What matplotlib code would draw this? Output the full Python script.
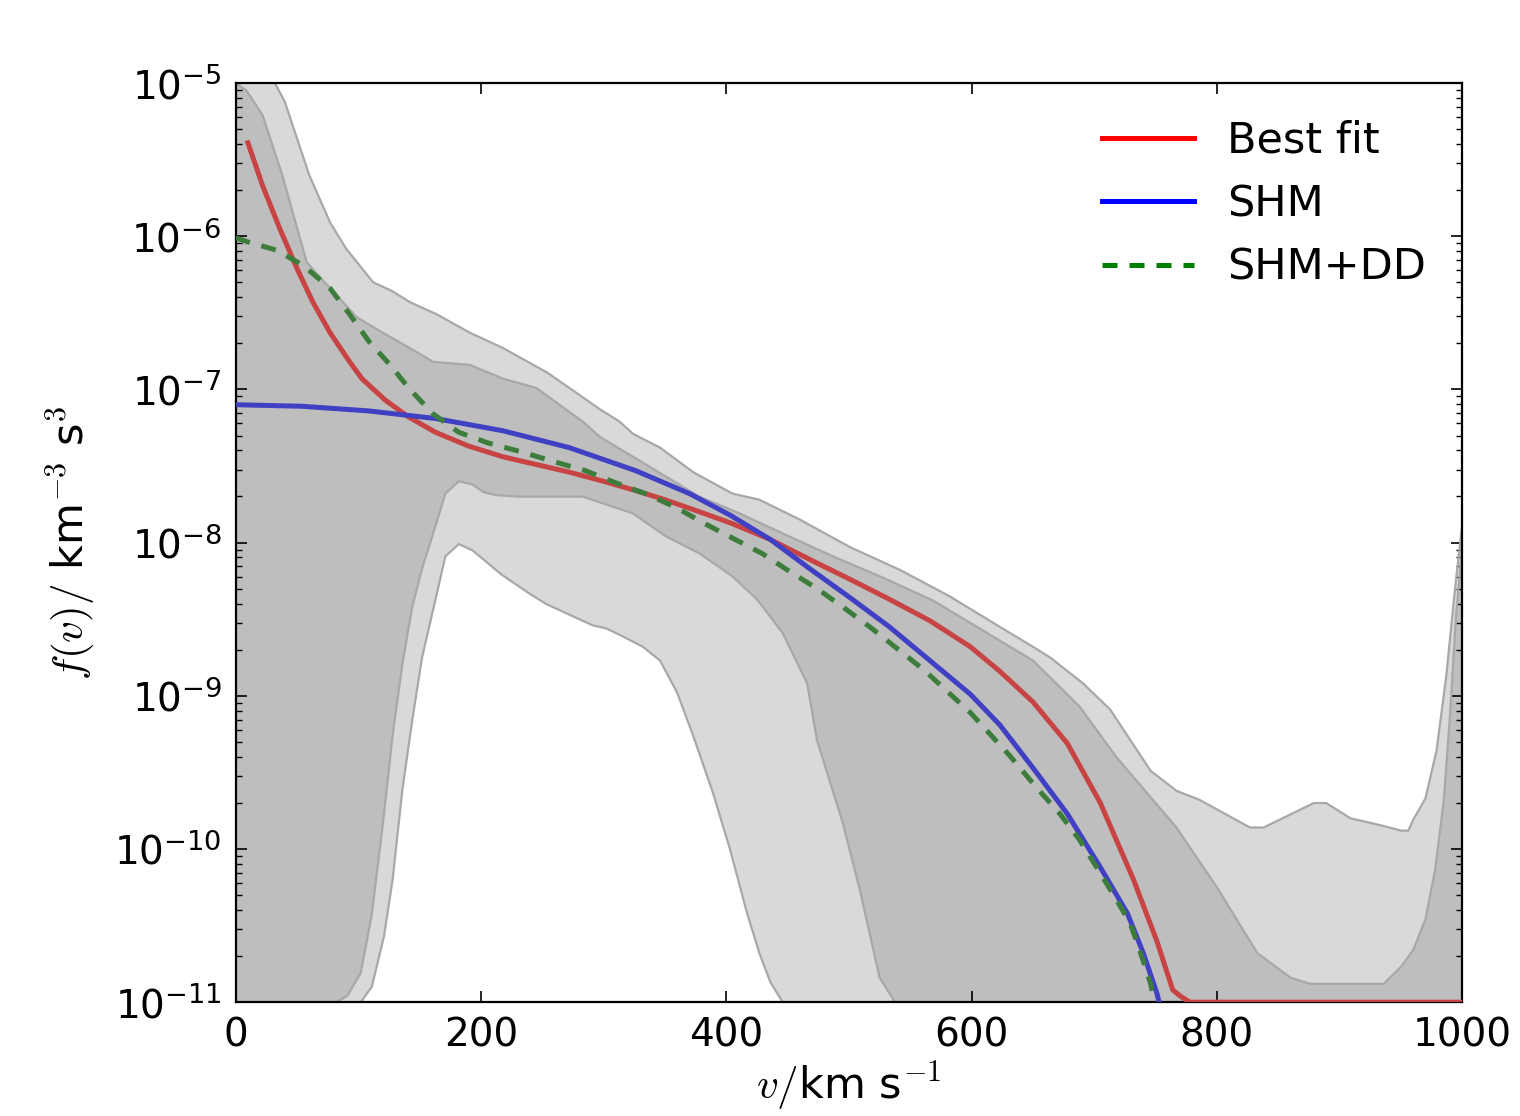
import numpy as np
import matplotlib
matplotlib.use('Agg')
import matplotlib.pyplot as plt
from matplotlib.lines import Line2D

plt.rcParams['mathtext.fontset'] = 'cm'
plt.rcParams['font.family'] = ['DejaVu Sans']

# all band/curve values stored as log10 f(v) [km^-3 s^3]
FLOOR = -12.0

# outer (light grey) band
v_out_up = [0, 30, 40, 60, 77, 90, 112, 128, 142, 164, 191, 218, 254, 281, 297, 313, 324, 346,
            373, 405, 427, 460, 501, 542, 582, 623, 650, 664, 691, 713, 746, 767, 786, 827,
            838, 879, 889, 909, 936, 950, 956, 960, 970, 979, 987, 994, 1000]
f_out_up = [-4.8, -4.97, -5.12, -5.6, -5.91, -6.08, -6.30, -6.36, -6.43, -6.51, -6.63, -6.73,
            -6.89, -7.04, -7.13, -7.21, -7.29, -7.38, -7.54, -7.68, -7.72, -7.85, -8.03, -8.18,
            -8.35, -8.55, -8.68, -8.75, -8.92, -9.09, -9.49, -9.62, -9.68, -9.86, -9.86, -9.70,
            -9.70, -9.80, -9.85, -9.88, -9.88, -9.81, -9.67, -9.36, -8.87, -8.31, -7.88]
v_out_lo = [0, 100, 102, 111, 121, 128, 136, 144, 152, 163, 171, 182, 193, 217, 239, 253, 272,
            291, 302, 315, 332, 346, 360, 373, 389, 403, 417, 427, 436, 446, 450, 1000]
f_out_lo = [FLOOR, FLOOR, -11.0, -10.9, -10.57, -10.2, -9.61, -9.16, -8.75, -8.37, -8.09, -8.01,
            -8.05, -8.21, -8.33, -8.40, -8.47, -8.54, -8.56, -8.61, -8.68, -8.77, -8.98, -9.26,
            -9.63, -10.0, -10.42, -10.68, -10.87, -11.0, FLOOR, FLOOR]

# inner (dark grey) band
v_in_up = [0, 9, 22, 38, 58, 77, 99, 120, 142, 161, 191, 218, 245, 283, 297, 324, 351, 378,
           411, 446, 487, 528, 569, 596, 623, 650, 664, 688, 718, 767, 800, 833, 860, 876,
           936, 950, 960, 970, 978, 985, 990, 995, 1000]
f_in_up = [-5.0, -5.05, -5.21, -5.6, -6.17, -6.34, -6.53, -6.63, -6.73, -6.82, -6.84, -6.93,
           -6.99, -7.21, -7.31, -7.44, -7.57, -7.70, -7.81, -7.94, -8.09, -8.23, -8.38, -8.51,
           -8.64, -8.77, -8.88, -9.07, -9.40, -9.86, -10.25, -10.68, -10.84, -10.88, -10.88,
           -10.77, -10.66, -10.46, -10.13, -9.68, -9.13, -8.47, -8.03]
v_in_lo = [0, 80, 82, 91, 102, 111, 120, 128, 136, 144, 152, 163, 171, 182, 193, 202, 212, 231,
           283, 294, 324, 351, 378, 405, 425, 446, 466, 474, 495, 509, 525, 536, 540, 1000]
f_in_lo = [FLOOR, FLOOR, -11.0, -10.96, -10.81, -10.43, -9.84, -9.26, -8.79, -8.42, -8.17, -7.89,
           -7.68, -7.60, -7.62, -7.67, -7.69, -7.70, -7.70, -7.73, -7.81, -7.96, -8.07, -8.22,
           -8.37, -8.59, -8.92, -9.29, -9.83, -10.27, -10.84, -10.98, FLOOR, FLOOR]

# best fit
v_best = [10, 22, 36, 50, 63, 77, 93, 103, 122, 141, 163, 190, 218, 245, 272, 300, 326, 350,
          375, 403, 436, 468, 501, 533, 566, 599, 623, 650, 678, 705, 732, 751, 764, 770, 778,
          1000]
f_best = [-5.39, -5.67, -5.95, -6.21, -6.43, -6.63, -6.82, -6.93, -7.07, -7.18, -7.28, -7.37,
          -7.44, -7.49, -7.54, -7.60, -7.66, -7.72, -7.79, -7.87, -7.98, -8.11, -8.24, -8.37,
          -8.51, -8.68, -8.84, -9.04, -9.31, -9.70, -10.20, -10.60, -10.92, -10.96, -11.0,
          -11.0]

# SHM
v_shm = [0, 54, 108, 163, 218, 272, 326, 370, 403, 436, 468, 501, 533, 566, 599, 623, 650, 678,
         705, 727, 740, 751, 756]
f_shm = [-7.10, -7.11, -7.14, -7.19, -7.27, -7.38, -7.53, -7.68, -7.82, -7.98, -8.17, -8.36,
         -8.55, -8.77, -8.99, -9.19, -9.47, -9.77, -10.12, -10.42, -10.68, -10.94, -11.1]

# SHM+DD
v_dd = [0, 11, 33, 55, 77, 93, 109, 126, 141, 161, 182, 206, 234, 259, 285, 310, 334, 359, 381,
        405, 429, 452, 474, 495, 517, 539, 561, 580, 599, 631, 653, 672, 688, 702, 715, 729,
        737, 746, 751]
f_dd = [-6.01, -6.04, -6.09, -6.19, -6.34, -6.51, -6.69, -6.84, -6.99, -7.16, -7.28, -7.35,
        -7.41, -7.47, -7.53, -7.61, -7.68, -7.77, -7.87, -7.97, -8.07, -8.19, -8.30, -8.42,
        -8.55, -8.69, -8.83, -8.97, -9.11, -9.39, -9.60, -9.77, -9.94, -10.12, -10.29, -10.48,
        -10.66, -10.88, -11.1]


def band(ax, v_up, f_up, v_lo, f_lo, color):
    xs = np.concatenate([v_up, v_lo[::-1]])
    ys = 10 ** np.concatenate([f_up, f_lo[::-1]])
    ax.fill(xs, ys, facecolor=color, edgecolor='none', zorder=1)
    ax.plot(v_up, 10 ** np.array(f_up), color='#a8a8a8', lw=1.6, zorder=2)
    ax.plot(v_lo, 10 ** np.array(f_lo), color='#a8a8a8', lw=1.6, zorder=2)


fig = plt.figure(figsize=(15.2, 11.16), dpi=100)
ax = fig.add_axes([0.155, 0.102, 0.807, 0.8236])

band(ax, v_out_up, f_out_up, v_out_lo, f_out_lo, '#d9d9d9')
band(ax, v_in_up, f_in_up, v_in_lo, f_in_lo, '#bebebe')

ax.plot(v_best, 10 ** np.array(f_best), color='#c84444', lw=3.6, zorder=4)
ax.plot(v_shm, 10 ** np.array(f_shm), color='#4040c4', lw=3.6, zorder=4)
ax.plot(v_dd, 10 ** np.array(f_dd), color='#3c7d3c', lw=3.6, dashes=(3, 2.4), zorder=4)

ax.set_yscale('log')
ax.set_xlim(0, 1000)
ax.set_ylim(1e-11, 1e-5)
ax.set_xticks([0, 200, 400, 600, 800, 1000])

ax.tick_params(which='both', direction='in', top=True, right=True, labelsize=28, pad=10)
ax.tick_params(which='major', length=8, width=1.2)
ax.tick_params(which='minor', length=4, width=1)
for s in ax.spines.values():
    s.set_linewidth(1.6)

ax.set_xlabel(r'$v/$km s$^{-1}$', fontsize=31, labelpad=4)
ax.set_ylabel(r'$f(v)/$ km$^{-3}$ s$^3$', fontsize=31, labelpad=12)

handles = [Line2D([], [], color='r', lw=3.6),
           Line2D([], [], color='b', lw=3.6),
           Line2D([], [], color='g', lw=3.6, dashes=(3, 2.4))]
ax.legend(handles, ['Best fit', 'SHM', 'SHM+DD'], loc='upper right', frameon=False,
          fontsize=31, handlelength=2.15, handletextpad=0.75, labelspacing=0.5,
          borderaxespad=0.45)

fig.savefig('out.png', dpi=100)
